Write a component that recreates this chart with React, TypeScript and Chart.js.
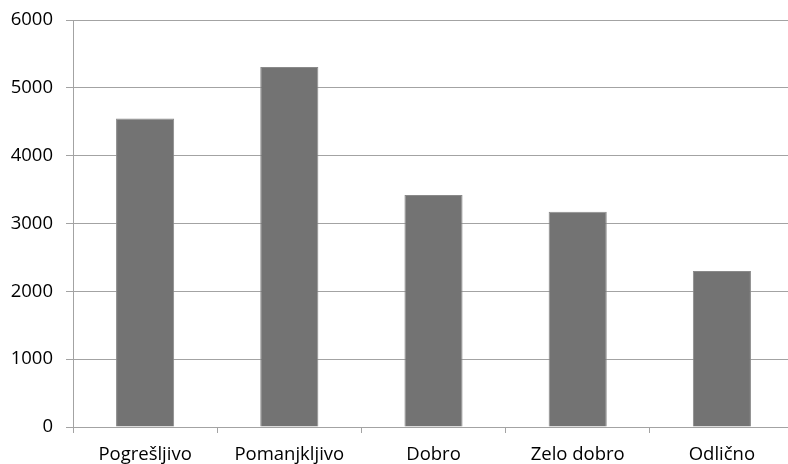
import React, { useEffect, useRef } from "react";
import { Chart, registerables } from "chart.js";

Chart.register(...registerables);

const categories = ["Pogrešljivo", "Pomanjkljivo", "Dobro", "Zelo dobro", "Odlično"];
const values = [4550, 5310, 3420, 3175, 2300];
const yTicks = [0, 1000, 2000, 3000, 4000, 5000, 6000];

export default function App() {
  const ref = useRef<HTMLCanvasElement>(null);
  useEffect(() => {
    const grid = "#a3a3a3";
    const font = { family: "'Open Sans', sans-serif", size: 18.5 };
    const chart = new Chart(ref.current!, {
      type: "bar",
      data: {
        labels: categories,
        datasets: [
          {
            data: values,
            backgroundColor: "#737373",
            borderColor: "#8a8a8a",
            borderWidth: 1,
            categoryPercentage: 1,
            barPercentage: 0.403,
          },
        ],
      },
      options: {
        animation: false,
        responsive: false,
        maintainAspectRatio: false,
        layout: { padding: { top: 0, right: 6, left: 0, bottom: 0 } },
        plugins: { legend: { display: false }, tooltip: { enabled: false } },
        scales: {
          x: {
            grid: {
              offset: true,
              drawOnChartArea: false,
              drawTicks: true,
              tickLength: 6,
              color: grid,
            },
            border: { display: true, color: grid },
            ticks: { color: "#000", font, padding: 11, maxRotation: 0 },
            afterFit: (s: any) => {
              s.height = 37;
            },
          },
          y: {
            min: 0,
            max: 6000,
            afterBuildTicks: (s: any) => {
              s.ticks = yTicks.map((v) => ({ value: v }));
            },
            grid: { color: grid, tickLength: 7, drawTicks: true },
            border: { display: true, color: grid },
            ticks: { color: "#000", font, padding: 13, callback: (v: any) => String(v) },
            afterFit: (s: any) => {
              s.width = 73;
            },
          },
        },
      },
    });
    return () => chart.destroy();
  }, []);
  return (
    <div style={{ position: "fixed", left: 0, top: 0, width: 788, height: 464, overflow: "hidden", background: "#fff" }}>
      <canvas ref={ref} width={800} height={468} style={{ display: "block", marginTop: -4 }} />
    </div>
  );
}
